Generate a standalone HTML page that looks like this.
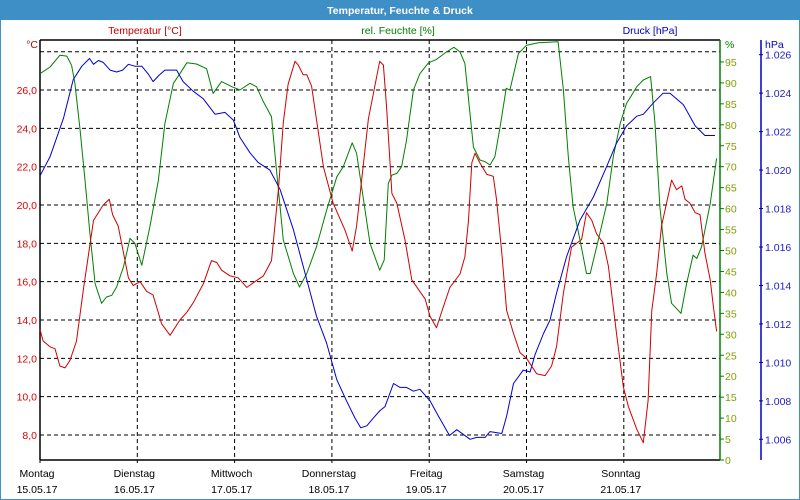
<!DOCTYPE html>
<html><head><meta charset="utf-8"><style>
html,body{margin:0;padding:0;background:#fff;}
svg{display:block;font-family:"Liberation Sans",sans-serif;}
</style></head><body>
<svg id="chart" width="800" height="500" viewBox="0 0 800 500">
<rect x="0" y="0" width="800" height="500" fill="#fff"/>
<rect x="0" y="0" width="800" height="20" fill="#3d8fc6"/>
<rect x="0.5" y="0.5" width="799" height="499" fill="none" stroke="#3d8fc6"/>
<text x="400" y="14" text-anchor="middle" font-size="10.5" font-weight="bold" fill="#fff">Temperatur, Feuchte &amp; Druck</text>
<text x="145" y="34" text-anchor="middle" font-size="10.5" fill="#c00000">Temperatur [°C]</text>
<text x="398" y="34" text-anchor="middle" font-size="10.5" fill="#008000">rel. Feuchte [%]</text>
<text x="650" y="34" text-anchor="middle" font-size="10.5" fill="#0000c0">Druck [hPa]</text>
<text x="38" y="48" text-anchor="end" font-size="10.5" fill="#c00000">°C</text>
<text x="725" y="48" font-size="10.5" fill="#008000">%</text>
<text x="765" y="48" font-size="10.5" fill="#0000c0">hPa</text>
<g id="grid"></g><g id="axes"></g><g id="series"></g>
</svg>
<script>
const dayNames=["Montag","Dienstag","Mittwoch","Donnerstag","Freitag","Samstag","Sonntag"];
const dayDates=["15.05.17","16.05.17","17.05.17","18.05.17","19.05.17","20.05.17","21.05.17"];
const tempTicks=[8,10,12,14,16,18,20,22,24,26,28];
const humTicks=[0,5,10,15,20,25,30,35,40,45,50,55,60,65,70,75,80,85,90,95];
const presTicks=[1006,1008,1010,1012,1014,1016,1018,1020,1022,1024,1026];
const tempHours=[0,0.8,2.5,3.7,4.9,6.2,7.4,9.0,10.7,13.2,15.6,17.1,17.9,19.3,20.6,21.8,23.0,24.7,26.3,27.9,30.0,32.1,34.5,36.2,37.8,40.3,42.3,43.6,44.8,46.9,48.9,51.0,53.0,55.1,57.1,58.8,60.0,61.2,62.9,63.7,64.9,65.8,67.0,69.9,72.3,75.2,77.0,78.1,81.0,83.8,84.7,85.5,86.8,88.0,90.0,91.7,93.3,95.0,96.2,97.8,99.5,101.1,103.6,104.8,105.7,106.5,107.3,108.5,110.2,111.8,112.6,113.9,115.1,116.8,118.4,120.0,122.5,124.6,126.2,127.4,129.1,131.1,133.6,134.8,136.1,137.3,139.0,140.2,142.2,143.9,145.1,147.2,148.8,150.0,150.9,152.1,153.3,155.8,157.0,158.3,159.1,160.3,161.6,162.8,164.0,165.3,166.1,166.9];
const tempValues=[13.5,12.9,12.6,12.5,11.6,11.5,11.9,12.9,15.6,19.2,20.0,20.3,19.5,18.9,17.5,16.2,15.8,16.0,15.5,15.3,13.8,13.2,14.0,14.4,14.9,15.9,17.1,17.0,16.6,16.3,16.2,15.7,16.0,16.3,17.1,20.8,24.3,26.3,27.5,27.3,26.8,26.8,26.2,22.0,20.1,18.7,17.6,18.9,24.5,27.5,27.3,25.1,20.6,20.1,18.2,16.1,15.6,15.1,14.2,13.6,14.7,15.7,16.4,17.3,19.2,22.2,22.7,22.2,21.6,21.5,20.3,17.5,14.5,13.3,12.3,12.0,11.2,11.1,11.6,12.6,15.4,17.8,18.2,19.6,19.2,18.5,18.0,16.8,13.3,10.5,9.5,8.3,7.6,9.8,14.5,16.4,18.9,21.3,20.8,21.0,20.3,20.1,19.6,19.5,17.5,16.1,14.7,13.4];
const humHours=[0,2.5,4.9,6.6,7.8,8.6,9.9,11.1,12.3,13.6,15.2,16.4,17.7,18.9,20.6,22.2,23.4,25.1,27.1,29.2,30.8,32.9,34.5,36.2,38.6,41.1,42.7,44.8,47.3,49.3,51.8,53.4,55.1,57.1,58.4,60.0,62.5,64.0,65.8,68.2,70.7,73.2,74.8,77.0,78.1,79.7,81.4,83.8,84.9,85.9,86.8,88.0,89.2,90.4,92.1,93.7,95.8,97.8,100.3,102.1,103.6,104.8,105.9,106.9,108.5,109.8,111.0,112.2,113.5,115.0,115.9,118.0,120.0,122.9,127.8,129.1,130.3,131.5,133.2,134.8,135.7,137.7,139.8,141.4,143.1,144.7,147.2,148.8,150.6,151.7,152.9,154.6,155.8,158.1,159.5,161.1,162.0,163.2,165.3,166.9];
const humValues=[92.2,93.8,96.6,96.4,94.2,89.9,78.7,66.8,54.1,42.1,37.4,38.9,39.3,41.3,46.1,52.9,51.7,46.5,55.7,66.8,80.3,89.9,92.2,94.8,94.5,93.4,87.5,90.3,89.1,88.3,89.9,89.1,85.5,81.9,68.4,52.5,44.5,41.3,44.5,50.9,59.6,67.6,70.0,75.7,73.2,62.8,51.7,45.3,47.7,66.0,68.0,68.4,70.0,76.3,88.3,92.2,94.8,95.6,97.4,98.5,97.4,94.6,84.3,74.7,71.6,71.2,70.4,72.4,79.5,88.7,88.3,97.0,99.0,99.6,99.8,88.3,72.4,60.4,52.5,44.5,44.5,52.5,61.2,72.4,80.3,85.1,89.1,90.7,91.5,80.3,60.4,44.5,37.4,35.0,42.1,48.9,48.1,50.9,61.2,72.0];
const presHours=[0,2.5,5.8,8.2,10.3,12.2,13.2,14.4,15.6,17.3,18.9,20.4,21.8,23.4,25.1,26.7,27.9,29.2,30.8,33.7,35.3,37.8,40.3,43.2,45.6,47.7,49.3,51.8,53.8,56.7,59.2,62.5,65.8,68.2,70.7,73.2,75.6,77.7,79.1,80.6,82.2,83.9,85.1,87.2,88.8,90.4,92.1,93.7,96.2,98.3,101.0,102.8,106.1,107.7,109.8,111.0,113.9,115.1,116.8,119.2,120.9,122.1,124.2,125.8,127.4,129.9,133.2,136.5,139.8,142.2,144.7,147.2,148.8,151.3,153.7,155.4,158.7,161.6,164.0,166.5];
const presValues=[1019.7,1020.7,1022.7,1024.7,1025.4,1025.8,1025.5,1025.7,1025.6,1025.2,1025.1,1025.2,1025.5,1025.4,1025.4,1025.0,1024.6,1024.9,1025.2,1025.2,1024.6,1024.1,1023.7,1022.9,1023.0,1022.6,1021.7,1020.9,1020.4,1020.0,1019.0,1016.9,1014.3,1012.4,1011.0,1009.1,1008.0,1007.1,1006.6,1006.7,1007.1,1007.5,1007.7,1008.9,1008.7,1008.7,1008.5,1008.6,1008.0,1007.2,1006.2,1006.5,1006.0,1006.1,1006.1,1006.4,1006.3,1007.2,1008.9,1009.6,1009.5,1010.4,1011.5,1012.2,1013.6,1015.5,1017.4,1018.6,1020.2,1021.4,1022.3,1022.8,1022.9,1023.5,1024.0,1024.0,1023.4,1022.3,1021.8,1021.8];

const NS="http://www.w3.org/2000/svg";
const X0=40,X1=720,Y0=40,Y1=460,DAYW=97.3;
const xScale=h=>X0+h/24*DAYW;
const tScale=t=>435-(t-8)*19.165;
const hScale=v=>460-v*4.19;
const pScale=p=>54.7-(p-1026)*19.23;
function mk(tag,parent,attrs){const e=document.createElementNS(NS,tag);for(const k in attrs)e.setAttribute(k,attrs[k]);parent.appendChild(e);return e;}
const grid=document.getElementById('grid'),axes=document.getElementById('axes'),series=document.getElementById('series');

tempTicks.forEach(t=>{
  const y=tScale(t);
  const l=mk('line',grid,{x1:X0,x2:X1,y1:y,y2:y,stroke:'#000','stroke-dasharray':'4,3','stroke-width':1});
  
  
  if(t<28){
    const tx=mk('text',axes,{x:37,y:y+4,'text-anchor':'end','font-size':10.5,fill:'#e00000'});
    tx.textContent=t.toFixed(1).replace('.',',');
    
    
  }
});
dayNames.forEach((d,i)=>{
  const x=X0+i*DAYW;
  if(i>0){
    const l=mk('line',grid,{x1:x,x2:x,y1:Y0,y2:Y1,stroke:'#000','stroke-dasharray':'4,3'});
    
    
  }
  const tk=mk('line',axes,{x1:x,x2:x,y1:Y1,y2:Y1+3,stroke:'#000'});
  
  
  const a=mk('text',axes,{x:x-3,y:477,'text-anchor':'middle','font-size':10.5,fill:'#000'});
  a.textContent=d;
  
  
  const b=mk('text',axes,{x:x-3,y:493,'text-anchor':'middle','font-size':10.5,fill:'#000'});
  b.textContent=dayDates[i];
  
  
});
[[X0,Y0,X1,Y0],[X0,Y0,X0,Y1],[X0,Y1,X1,Y1]].forEach(c=>{
  const l=mk('line',axes,{x1:c[0],y1:c[1],x2:c[2],y2:c[3],stroke:'#000','stroke-width':1.5});
  
  
});
const ha=mk('line',axes,{x1:X1,x2:X1,y1:Y0,y2:Y1,stroke:'#008000','stroke-width':1.5});


humTicks.forEach(v=>{
  const y=hScale(v);
  const tk=mk('line',axes,{x1:X1,x2:X1+4,y1:y,y2:y,stroke:'#008000'});
  
  
  const tx=mk('text',axes,{x:725,y:y+4,'font-size':10.5,fill:'#80a000'});
  tx.textContent=v;
  
  
});
const pa=mk('line',axes,{x1:761,x2:761,y1:Y0,y2:Y1,stroke:'#0000c0','stroke-width':1.5});


presTicks.forEach(v=>{
  const y=pScale(v);
  const tk=mk('line',axes,{x1:759,x2:763,y1:y,y2:y,stroke:'#0000c0'});
  
  
  const tx=mk('text',axes,{x:765,y:y+4,'font-size':10.5,fill:'#2020c0'});
  tx.textContent=(v/1000).toFixed(3);
  
  
});
function line(hours,vals,sc,color,name){
  const pts=hours.map((h,i)=>xScale(h).toFixed(1)+','+sc(vals[i]).toFixed(1)).join(' ');
  const p=mk('polyline',series,{points:pts,fill:'none',stroke:color,'stroke-width':1,'stroke-linejoin':'round'});
  
  
}
line(humHours,humValues,hScale,'#008000','humidity-line');
line(presHours,presValues,pScale,'#0000d0','pressure-line');
line(tempHours,tempValues,tScale,'#d00000','temperature-line');
</script>
</body></html>
